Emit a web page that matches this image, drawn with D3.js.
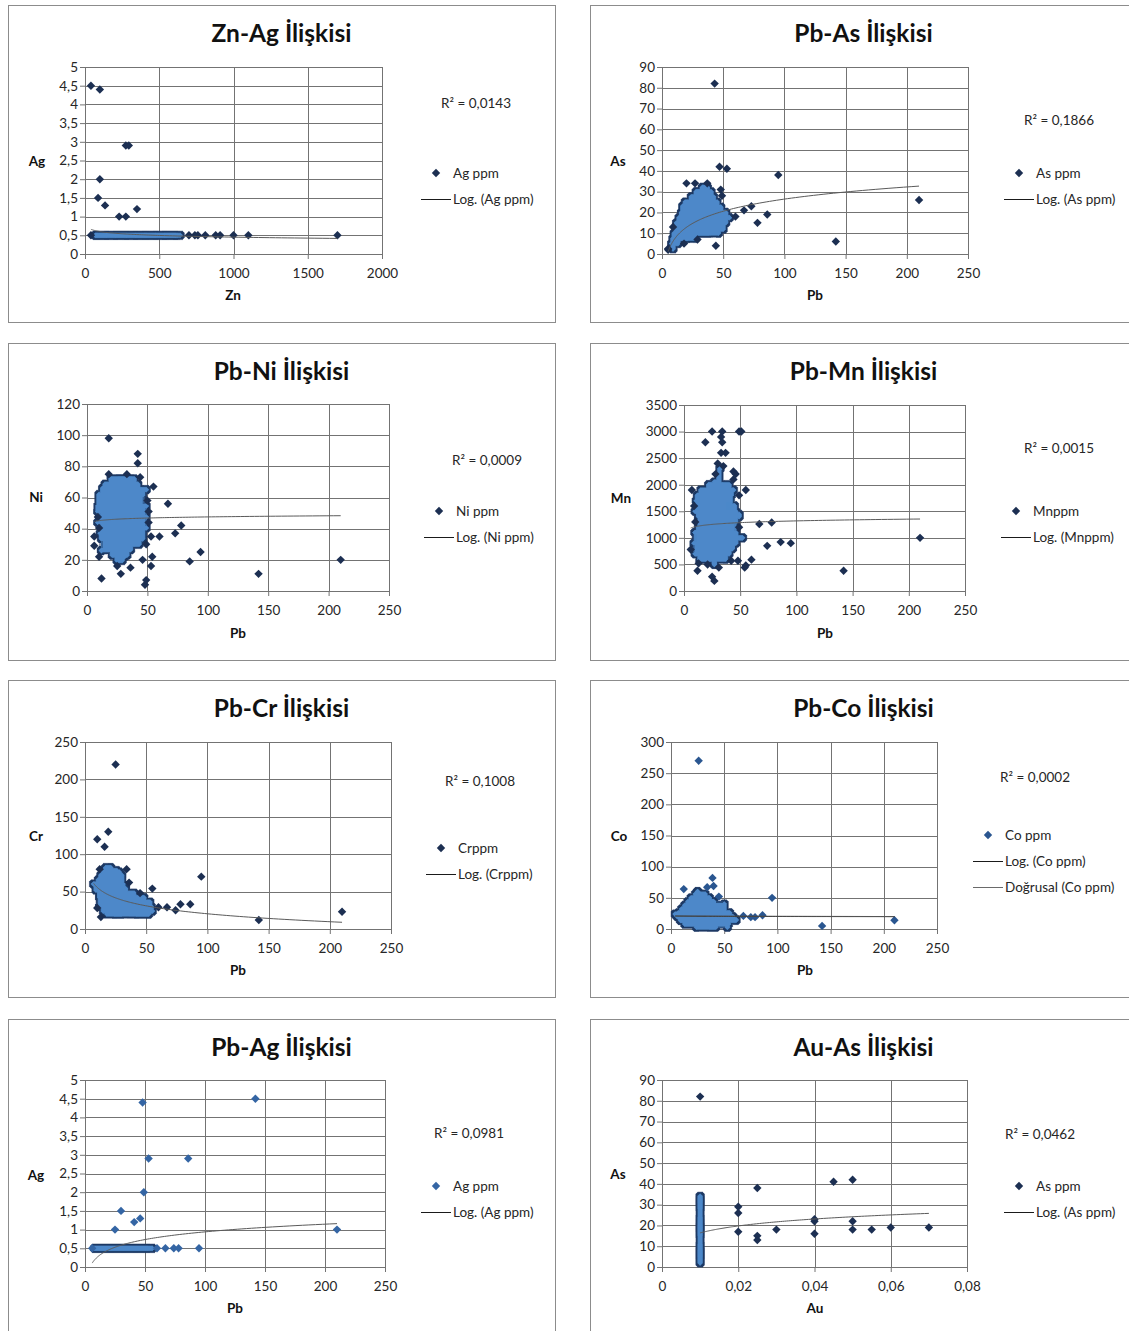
<!DOCTYPE html>
<html>
<head>
<meta charset="utf-8">
<script src="https://cdn.jsdelivr.net/npm/d3@7"></script>
<style>
  body { margin: 0; background: #fff; }
  svg { display: block; }
  text { font-family: Lato, "Open Sans", sans-serif; }
</style>
</head>
<body>
<svg id="chart" width="1129" height="1331"></svg>
<script>
// ---------- axis ticks ----------
const agTicks = [0, 0.5, 1, 1.5, 2, 2.5, 3, 3.5, 4, 4.5, 5];
const znTicks = [0, 500, 1000, 1500, 2000];
const pbTicks = [0, 50, 100, 150, 200, 250];
const asTicks = [0, 10, 20, 30, 40, 50, 60, 70, 80, 90];
const niTicks = [0, 20, 40, 60, 80, 100, 120];
const mnTicks = [0, 500, 1000, 1500, 2000, 2500, 3000, 3500];
const crTicks = [0, 50, 100, 150, 200, 250];
const coTicks = [0, 50, 100, 150, 200, 250, 300];
const auTicks = [0, 0.02, 0.04, 0.06, 0.08];

// ---------- samples [x, y] (ppm) ----------
const znAg = [
  [40,4.5],[100,4.4],[275,2.9],[295,2.9],[100,2],[88,1.5],[135,1.3],[230,1],[275,1],[350,1.2],
  [40,0.5],[70,0.5],[85,0.5],[100,0.5],[115,0.5],[130,0.5],[145,0.5],[160,0.5],[175,0.5],[190,0.5],
  [205,0.5],[220,0.5],[235,0.5],[250,0.5],[265,0.5],[280,0.5],[295,0.5],[310,0.5],[325,0.5],[340,0.5],
  [355,0.5],[370,0.5],[385,0.5],[400,0.5],[415,0.5],[430,0.5],[445,0.5],[460,0.5],[475,0.5],[490,0.5],
  [505,0.5],[520,0.5],[535,0.5],[550,0.5],[565,0.5],[580,0.5],[595,0.5],[610,0.5],[625,0.5],[640,0.5],
  [700,0.5],[740,0.5],[760,0.5],[810,0.5],[880,0.5],[910,0.5],[1000,0.5],[1100,0.5],[1700,0.5]
];

const pbAs = [
  [5,2.5],[9,2.5],
  [8,5],[13,5],[18,5],
  [9,7.5],[15,7.5],[21,7.5],[27,7.5],
  [10,10],[16,10],[22,10],[28,10],[34,10],[40,10],
  [11,12.5],[17,12.5],[23,12.5],[29,12.5],[35,12.5],[41,12.5],[47,12.5],
  [12,15],[18,15],[24,15],[30,15],[36,15],[42,15],[48,15],[52,15],
  [14,17.5],[20,17.5],[26,17.5],[32,17.5],[38,17.5],[44,17.5],[50,17.5],[55,17.5],
  [16,20],[22,20],[28,20],[34,20],[40,20],[46,20],[52,20],
  [18,22.5],[24,22.5],[30,22.5],[36,22.5],[42,22.5],[48,22.5],
  [21,25],[27,25],[33,25],[39,25],[45,25],
  [24,27.5],[30,27.5],[36,27.5],[42,27.5],
  [28,30],[34,30],[40,30],
  [33,32],[37,32],
  [43,82],[47,42],[53,41],[95,38],[210,26],[142,6],[44,4],[9,13],[20,34],[27,34],[37,34],
  [67,21],[73,23],[78,15],[86,19],[60,18],[48,31],[49,28],[5,2],[29,7],[19,25],[17,23],
  [38,10],[46,10],[50,12]
];

const pbNi = [
  [20,72],[26,72],[32,72],[37,72],
  [15,68.5],[21,68.5],[27,68.5],[33,68.5],[39,68.5],[42,68.5],
  [13,65],[18,65],[24,65],[30,65],[36,65],[42,65],[45,65],
  [11,61.5],[16,61.5],[22,61.5],[28,61.5],[34,61.5],[40,61.5],[46,61.5],
  [10,58],[14,58],[20,58],[26,58],[32,58],[38,58],[44,58],[50,58],
  [9,54.5],[13,54.5],[19,54.5],[25,54.5],[31,54.5],[37,54.5],[43,54.5],[49,54.5],
  [9,51],[16,51],[22,51],[28,51],[34,51],[40,51],[46,51],[51,51],
  [9,47.5],[13,47.5],[19,47.5],[25,47.5],[31,47.5],[37,47.5],[43,47.5],[49,47.5],
  [9,44],[16,44],[22,44],[28,44],[34,44],[40,44],[46,44],[51,44],
  [10,40.5],[13,40.5],[19,40.5],[25,40.5],[31,40.5],[37,40.5],[43,40.5],[49,40.5],
  [11,37],[16,37],[22,37],[28,37],[34,37],[40,37],[46,37],
  [12,33.5],[18,33.5],[24,33.5],[30,33.5],[36,33.5],[42,33.5],[46,33.5],
  [15,30],[21,30],[27,30],[33,30],[39,30],[43,30],
  [18,26.5],[24,26.5],[30,26.5],[36,26.5],
  [21,23],[27,23],[33,23],
  [25,19.5],[29,19.5],
  [18,98],[42,88],[42,82],[18,75],[33,75],[44,73],[39,72],[23,71],[13,66],[16,67],[49,65],[55,67],
  [67,56],[78,42],[73,37],[94,25],[85,19],[142,11],[210,20],[60,35],[53,35],[46,34],[49,30],
  [54,22],[53,16],[46,20],[48,4],[49,7],[36,15],[28,11],[25,16],[31,22],[12,8],[12,26],[10,22],
  [6,29],[6,35],[10,62]
];

const pbMn = [
  [22,2000],[28,2000],[34,2000],[40,2000],
  [15,1900],[21,1900],[27,1900],[33,1900],[39,1900],[44,1900],
  [12,1800],[18,1800],[24,1800],[30,1800],[36,1800],[42,1800],
  [11,1700],[17,1700],[23,1700],[29,1700],[35,1700],[41,1700],
  [12,1600],[18,1600],[24,1600],[30,1600],[36,1600],[44,1600],
  [10,1500],[16,1500],[22,1500],[28,1500],[34,1500],[40,1500],[46,1500],
  [13,1400],[19,1400],[25,1400],[31,1400],[37,1400],[43,1400],[49,1400],
  [10,1300],[16,1300],[22,1300],[28,1300],[34,1300],[40,1300],[46,1300],
  [13,1200],[19,1200],[25,1200],[31,1200],[37,1200],[43,1200],[49,1200],
  [10,1100],[16,1100],[22,1100],[28,1100],[34,1100],[40,1100],[46,1100],
  [13,1000],[19,1000],[25,1000],[31,1000],[37,1000],[43,1000],[49,1000],[52,1000],
  [9,900],[16,900],[22,900],[28,900],[34,900],[40,900],[46,900],
  [12,800],[19,800],[25,800],[31,800],[37,800],[43,800],
  [10,700],[16,700],[22,700],[28,700],[34,700],[40,700],
  [14,600],[19,600],[25,600],[31,600],[37,600],
  [21,500],[27,500],
  [25,3000],[34,3000],[49,3000],[51,3000],[19,2800],[33,2900],[34,2800],[33,2600],[37,2600],
  [30,2400],[35,2350],[32,2300],[28,2200],[31,2150],[27,2050],[44,2250],[46,2200],[44,2100],
  [7,1900],[55,1900],[49,1800],[9,1600],[10,1100],[6,780],[67,1260],[78,1290],[74,850],[86,920],
  [95,900],[12,380],[25,270],[27,190],[31,440],[42,570],[48,570],[54,440],[55,480],[60,590],
  [142,380],[210,1000],[51,1000],[49,1440],[45,1600],[13,520]
];

const pbCr = [
  [15,78],[21,78],[26,78],
  [13,72],[19,72],[25,72],[30,72],
  [11,66],[17,66],[23,66],[29,66],
  [10,60],[14,60],[20,60],[26,60],[31,60],
  [11,54],[17,54],[23,54],[29,54],[33,54],
  [12,48],[16,48],[22,48],[28,48],[34,48],[40,48],[45,48],
  [12,42],[18,42],[24,42],[30,42],[36,42],[42,42],[48,42],
  [13,36],[17,36],[23,36],[29,36],[35,36],[41,36],[47,36],[53,36],
  [12,30],[18,30],[24,30],[30,30],[36,30],[42,30],[48,30],[54,30],
  [15,24],[21,24],[27,24],[33,24],[39,24],[45,24],[51,24],[55,24],
  [18,20],[24,20],[30,20],[36,20],[42,20],[48,20],[52,20],
  [25,220],[10,120],[19,130],[16,110],[95,70],[210,23],[142,12],[86,33],[78,33],[74,25],[67,29],
  [60,29],[55,54],[34,80],[36,62],[28,76],[12,80],[17,82],[21,82],[7,60],[9,52],[10,28],[13,16]
];

const pbCo = [
  [23,56],[28,56],
  [19,50],[25,50],[31,50],[36,50],
  [16,44],[22,44],[28,44],[34,44],[40,44],
  [13,38],[19,38],[25,38],[31,38],[37,38],[43,38],
  [10,32],[16,32],[22,32],[28,32],[34,32],[40,32],[46,32],[50,32],
  [7,26],[13,26],[19,26],[25,26],[31,26],[37,26],[43,26],[49,26],[55,26],
  [6,20],[10,20],[16,20],[22,20],[28,20],[34,20],[40,20],[46,20],[52,20],[58,20],
  [9,14],[13,14],[19,14],[25,14],[31,14],[37,14],[43,14],[49,14],[55,14],[61,14],
  [13,8],[19,8],[25,8],[31,8],[37,8],[43,8],[49,8],[54,8],
  [24,3],[30,3],[36,3],[42,3],
  [26,270],[12,64],[39,82],[40,69],[34,67],[25,60],[95,50],[45,52],[50,40],[32,56],[142,5],
  [210,14],[53,3],[68,21],[75,19],[79,19],[86,22],[61,15],[4,24]
];

const pbAg = [
  [6,0.5],[8,0.5],[10,0.5],[12,0.5],[14,0.5],[16,0.5],[18,0.5],[20,0.5],[22,0.5],[24,0.5],
  [26,0.5],[28,0.5],[30,0.5],[32,0.5],[34,0.5],[36,0.5],[38,0.5],[40,0.5],[42,0.5],[44,0.5],
  [46,0.5],[48,0.5],[50,0.5],[52,0.5],[54,0.5],[56,0.5],
  [60,0.5],[67,0.5],[74,0.5],[78,0.5],[95,0.5],
  [48,4.4],[142,4.5],[53,2.9],[86,2.9],[49,2],[30,1.5],[46,1.3],[41,1.2],[25,1],[210,1]
];

const auAs = [
  [0.01,2],[0.01,3],[0.01,4],[0.01,5],[0.01,6],[0.01,7],[0.01,8],[0.01,9],[0.01,10],[0.01,11],
  [0.01,12],[0.01,13],[0.01,14],[0.01,15],[0.01,16],[0.01,17],[0.01,18],[0.01,19],[0.01,20],
  [0.01,21],[0.01,22],[0.01,23],[0.01,24],[0.01,25],[0.01,26],[0.01,27],[0.01,28],[0.01,29],
  [0.01,30],[0.01,31],[0.01,32],[0.01,33],[0.01,34],
  [0.01,82],[0.02,29],[0.02,26],[0.02,17],[0.025,38],[0.025,15],[0.025,13],[0.03,18],
  [0.04,23],[0.04,22],[0.04,16],[0.045,41],[0.05,42],[0.05,22],[0.05,18],[0.055,18],
  [0.06,19],[0.07,19]
];

// ---------- logarithmic trend lines: y = a·ln(x) + b ----------
const fitZnAg = [-0.065, 0.90];
const fitPbAs = [8.43, -12.4];
const fitPbNi = [1.04, 42.75];
const fitPbMn = [47.6, 1100];
const fitPbCr = [-15.32, 90.9];
const fitPbCo = [-0.25, 21.2];
const linPbCo = [-0.004, 20.8];   // linear trend: y = m·x + c
const fitPbAg = [0.2966, -0.4265];
const fitAuAs = [4.83, 38.65];

const r2Values = ["0,0143", "0,1866", "0,0009", "0,0015", "0,1008", "0,0002", "0,0981", "0,0462"];

// ---------- chart definitions ----------
const charts = [
  { title: "Zn-Ag İlişkisi", xName: "Zn", yName: "Ag", series: "Ag ppm", data: znAg, fit: fitZnAg,
    xTicks: znTicks, yTicks: agTicks, r2: r2Values[0] },
  { title: "Pb-As İlişkisi", xName: "Pb", yName: "As", series: "As ppm", data: pbAs, fit: fitPbAs,
    xTicks: pbTicks, yTicks: asTicks, r2: r2Values[1] },
  { title: "Pb-Ni İlişkisi", xName: "Pb", yName: "Ni", series: "Ni ppm", data: pbNi, fit: fitPbNi,
    xTicks: pbTicks, yTicks: niTicks, r2: r2Values[2] },
  { title: "Pb-Mn İlişkisi", xName: "Pb", yName: "Mn", series: "Mnppm", data: pbMn, fit: fitPbMn,
    xTicks: pbTicks, yTicks: mnTicks, r2: r2Values[3] },
  { title: "Pb-Cr İlişkisi", xName: "Pb", yName: "Cr", series: "Crppm", data: pbCr, fit: fitPbCr,
    xTicks: pbTicks, yTicks: crTicks, r2: r2Values[4] },
  { title: "Pb-Co İlişkisi", xName: "Pb", yName: "Co", series: "Co ppm", data: pbCo, fit: fitPbCo,
    linear: linPbCo, xTicks: pbTicks, yTicks: coTicks, r2: r2Values[5] },
  { title: "Pb-Ag İlişkisi", xName: "Pb", yName: "Ag", series: "Ag ppm", data: pbAg, fit: fitPbAg,
    xTicks: pbTicks, yTicks: agTicks, r2: r2Values[6] },
  { title: "Au-As İlişkisi", xName: "Au", yName: "As", series: "As ppm", data: auAs, fit: fitAuAs,
    xTicks: auTicks, yTicks: asTicks, r2: r2Values[7] }
];

// placement of each chart on the sheet
const layout = [
  { frame: [8, 5],     plot: [85, 382, 67, 254],    yLab: [37, 161],  xLab: [233, 295],  r2: [476, 103],  legend: [421, 173],  marker: "#1c2f52" },
  { frame: [590, 5],   plot: [662, 968, 67, 254],   yLab: [618, 161], xLab: [815, 295],  r2: [1059, 120], legend: [1004, 173], marker: "#1c2f52" },
  { frame: [8, 343],   plot: [87, 389, 404, 591],   yLab: [36, 497],  xLab: [238, 633],  r2: [487, 460],  legend: [424, 511],  marker: "#1c2f52" },
  { frame: [590, 343], plot: [684, 965, 405, 591],  yLab: [621, 498], xLab: [825, 633],  r2: [1059, 448], legend: [1001, 511], marker: "#1c2f52" },
  { frame: [8, 680],   plot: [85, 391, 742, 929],   yLab: [36, 836],  xLab: [238, 970],  r2: [480, 781],  legend: [426, 848],  marker: "#1c2f52" },
  { frame: [590, 680], plot: [671, 937, 742, 929],  yLab: [619, 836], xLab: [805, 970],  r2: [1035, 777], legend: [973, 835],  marker: "#2a5690" },
  { frame: [8, 1019],  plot: [85, 385, 1080, 1267], yLab: [36, 1175], xLab: [235, 1308], r2: [469, 1133], legend: [421, 1186], marker: "#3465a4" },
  { frame: [590, 1019],plot: [662, 967, 1080, 1267],yLab: [618, 1174],xLab: [815, 1308], r2: [1040, 1134],legend: [1004, 1186],marker: "#1c2f52" }
];

const FRAME_W = 547, FRAME_H = 317;
const GRID = "#737373";
const BLUE = "#4d88c9";
const RIM = "#1d3763";
const R_DOT = 4.2;      // isolated marker half-diagonal
const R_CLUSTER = 2.9;  // clustered marker half-diagonal

const svg = d3.select("#chart");

// clustered markers: close the gaps between neighbours, then wrap the merged shape in a dark edge
const defs = svg.append("defs");
const rim = defs.append("filter").attr("id", "rim")
  .attr("filterUnits", "userSpaceOnUse").attr("x", 0).attr("y", 0)
  .attr("width", 1129).attr("height", 1331);
rim.append("feMorphology").attr("in", "SourceGraphic").attr("operator", "dilate")
  .attr("radius", 2.5).attr("result", "swell");
rim.append("feMorphology").attr("in", "swell").attr("operator", "erode")
  .attr("radius", 2.5).attr("result", "body");
rim.append("feMorphology").attr("in", "body").attr("operator", "dilate")
  .attr("radius", 1.8).attr("result", "grown");
rim.append("feFlood").attr("flood-color", RIM).attr("result", "ink");
rim.append("feComposite").attr("in", "ink").attr("in2", "grown").attr("operator", "in").attr("result", "edge");
const merge = rim.append("feMerge");
merge.append("feMergeNode").attr("in", "edge");
merge.append("feMergeNode").attr("in", "body");

const diamond = r => `M0,${-r}L${r},0L0,${r}L${-r},0Z`;
const fmt = v => String(+v.toFixed(3)).replace(".", ",");

charts.forEach((c, i) => {
  const L = layout[i];
  const g = svg.append("g");
  const [fx, fy] = L.frame;

  g.append("rect")
    .attr("x", fx + 0.5).attr("y", fy + 0.5)
    .attr("width", FRAME_W).attr("height", FRAME_H)
    .attr("fill", "#fff").attr("stroke", "#8c8c8c");

  const [px0, px1, pyTop, pyBot] = L.plot;
  const x = d3.scaleLinear().domain([c.xTicks[0], c.xTicks[c.xTicks.length - 1]]).range([px0, px1]);
  const y = d3.scaleLinear().domain([c.yTicks[0], c.yTicks[c.yTicks.length - 1]]).range([pyBot, pyTop]);

  // grid
  const grid = g.append("g").attr("stroke", GRID).attr("stroke-width", 1).attr("shape-rendering", "crispEdges");
  grid.selectAll(".h").data(c.yTicks).join("line").attr("class", "h")
    .attr("x1", px0).attr("x2", px1)
    .attr("y1", d => Math.round(y(d)) + 0.5).attr("y2", d => Math.round(y(d)) + 0.5);
  grid.selectAll(".v").data(c.xTicks).join("line").attr("class", "v")
    .attr("y1", pyTop).attr("y2", pyBot)
    .attr("x1", d => Math.round(x(d)) + 0.5).attr("x2", d => Math.round(x(d)) + 0.5);

  // axes
  const ay = g.append("g").attr("transform", `translate(${px0},0)`)
    .call(d3.axisLeft(y).tickValues(c.yTicks).tickFormat(fmt).tickSize(5).tickSizeOuter(0).tickPadding(2));
  const ax = g.append("g").attr("transform", `translate(0,${pyBot})`)
    .call(d3.axisBottom(x).tickValues(c.xTicks).tickFormat(fmt).tickSize(5).tickSizeOuter(0).tickPadding(9));
  [ay, ax].forEach(a => {
    a.attr("font-family", null).attr("font-size", null);
    a.selectAll("path, line").attr("stroke", GRID);
    a.selectAll("text").attr("fill", "#262626").style("font-size", "13.5px");
  });

  // markers: overlapping ones merge into a filled cluster, isolated ones stay dark
  const pts = c.data.map(d => [x(d[0]), y(d[1])]);
  const dense = pts.map((p, k) =>
    pts.filter((q, j) => j !== k && Math.hypot(p[0] - q[0], p[1] - q[1]) <= 9).length >= 4);
  g.append("g").attr("filter", "url(#rim)")
    .selectAll("path").data(pts.filter((p, k) => dense[k])).join("path")
    .attr("d", diamond(R_CLUSTER)).attr("fill", BLUE)
    .attr("transform", p => `translate(${p[0]},${p[1]})`);
  g.append("g")
    .selectAll("path").data(pts.filter((p, k) => !dense[k])).join("path")
    .attr("d", diamond(R_DOT)).attr("fill", L.marker)
    .attr("transform", p => `translate(${p[0]},${p[1]})`);

  // trend lines
  const [xmin, xmax] = d3.extent(c.data, d => d[0]);
  const xs = d3.range(0, 121).map(k => xmin * Math.pow(xmax / xmin, k / 120));
  g.append("path")
    .attr("d", d3.line().x(v => x(v)).y(v => y(c.fit[0] * Math.log(v) + c.fit[1]))(xs))
    .attr("fill", "none").attr("stroke", i === 5 ? "#1a1a1a" : "#5a5a5a").attr("stroke-width", 1);
  if (c.linear) {
    g.append("path")
      .attr("d", d3.line().x(v => x(v)).y(v => y(c.linear[0] * v + c.linear[1]))([xmin, xmax]))
      .attr("fill", "none").attr("stroke", "#555").attr("stroke-width", 1);
  }

  // titles
  g.append("text").attr("x", fx + FRAME_W / 2).attr("y", fy + 28.5).attr("dy", "0.35em")
    .attr("text-anchor", "middle").attr("font-weight", 700).attr("font-size", 24.5).attr("fill", "#111")
    .text(c.title);
  g.append("text").attr("x", L.yLab[0]).attr("y", L.yLab[1]).attr("dy", "0.35em")
    .attr("text-anchor", "middle").attr("font-weight", 700).attr("font-size", 13.5).attr("fill", "#111")
    .text(c.yName);
  g.append("text").attr("x", L.xLab[0]).attr("y", L.xLab[1]).attr("dy", "0.35em")
    .attr("text-anchor", "middle").attr("font-weight", 700).attr("font-size", 13.5).attr("fill", "#111")
    .text(c.xName);

  // R² label
  g.append("text").attr("x", L.r2[0]).attr("y", L.r2[1]).attr("dy", "0.35em")
    .attr("text-anchor", "middle").attr("font-size", 13.5).attr("fill", "#262626")
    .text(`R² = ${c.r2}`);

  // legend
  const [lx, ly] = L.legend;
  const leg = g.append("g").attr("font-size", 13.5).attr("fill", "#262626");
  leg.append("path").attr("d", diamond(R_DOT)).attr("fill", L.marker)
    .attr("transform", `translate(${lx + 15},${ly})`);
  leg.append("text").attr("x", lx + 32).attr("y", ly).attr("dy", "0.35em").text(c.series);
  const lines = [{ label: `Log. (${c.series})`, color: "#1a1a1a" }];
  if (c.linear) lines.push({ label: `Doğrusal (${c.series})`, color: "#6a6a6a" });
  lines.forEach((ln, k) => {
    const yy = ly + 26 * (k + 1) + 0.5;
    leg.append("line").attr("x1", lx).attr("x2", lx + 30).attr("y1", yy).attr("y2", yy)
      .attr("stroke", ln.color).attr("stroke-width", 1);
    leg.append("text").attr("x", lx + 32).attr("y", yy).attr("dy", "0.35em").text(ln.label);
  });
});
</script>
</body>
</html>
